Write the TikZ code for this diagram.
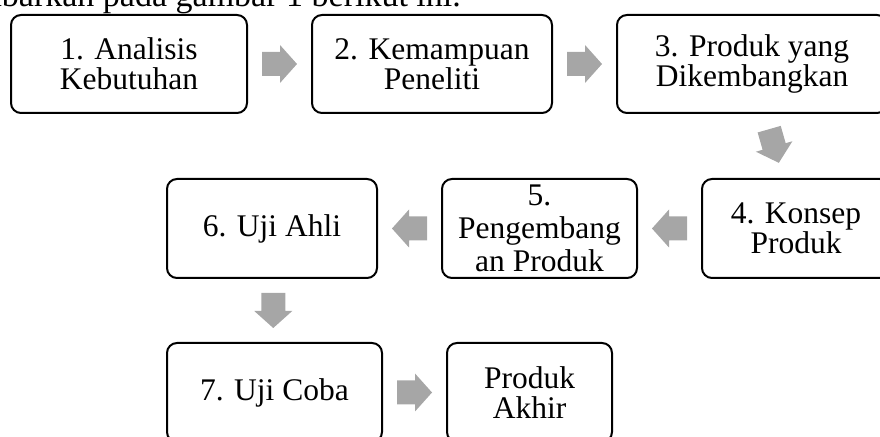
\documentclass[tikz,border=0pt]{standalone}
\usepackage{fontspec}
\setmainfont{Liberation Serif}
\usetikzlibrary{calc}
\definecolor{arrowgray}{RGB}{166,166,166}
\tikzset{
  stepbox/.style={draw, line width=2pt, rounded corners=10pt, align=center,
    minimum height=98pt, inner sep=0pt, font=\fontsize{31.5}{30}\selectfont},
  blockarrow/.pic={\fill[arrowgray] (-17.5,-12) -- (0.5,-12) -- (0.5,-19) --
    (17.5,0) -- (0.5,19) -- (0.5,12) -- (-17.5,12) -- cycle;}
}
\begin{document}
\begin{tikzpicture}[x=1pt,y=1pt]
% Frame of the cut-out
\clip (0,0) rectangle (880,436);

% Line above the diagram
\node[anchor=base east, inner sep=0pt, font=\fontsize{34}{36}\selectfont] (intro) at (461,429) {dijabarkan pada gambar 1 berikut ini.};

% First row
\node[stepbox, minimum width=236pt] (b1) at (129,372) {1. Analisis\\Kebutuhan};
\node[stepbox, minimum width=240pt] (b2) at (432,372) {2. Kemampuan\\Peneliti};
\node[stepbox, minimum width=270pt] (b3) at (752,372) {3. Produk yang\\Dikembangkan};

% Second row
\node[stepbox, minimum width=188pt, minimum height=99pt] (b4) at (796,207.5) {4. Konsep\\Produk};
\node[stepbox, minimum width=195pt, minimum height=99pt, font=\fontsize{31.5}{33}\selectfont] (b5) at (539.5,207.5) {5.\\Pengembang\\an Produk};
\node[stepbox, minimum width=210pt, minimum height=99pt] (b6) at (272,207.5) {6. Uji Ahli};

% Third row
\node[stepbox, minimum width=215pt, minimum height=99pt] (b7) at (274.5,43.5) {7. Uji Coba};
\node[stepbox, minimum width=165pt, minimum height=99pt] (b8) at (529.5,43.5) {Produk\\Akhir};

% Gray block arrows between the steps
\pic at ($(b1.east)!0.5!(b2.west)$) {blockarrow};
\pic at ($(b2.east)!0.5!(b3.west)$) {blockarrow};
\pic[rotate=-74] at ($(b3.south)!0.5!(b4.north)$) {blockarrow};
\pic[rotate=180] at ($(b4.west)!0.5!(b5.east)$) {blockarrow};
\pic[rotate=180] at ($(b5.west)!0.5!(b6.east)$) {blockarrow};
\pic[rotate=-90] at ($(b6.south)!0.5!(b7.north)$) {blockarrow};
\pic at ($(b7.east)!0.5!(b8.west)$) {blockarrow};
\end{tikzpicture}
\end{document}
